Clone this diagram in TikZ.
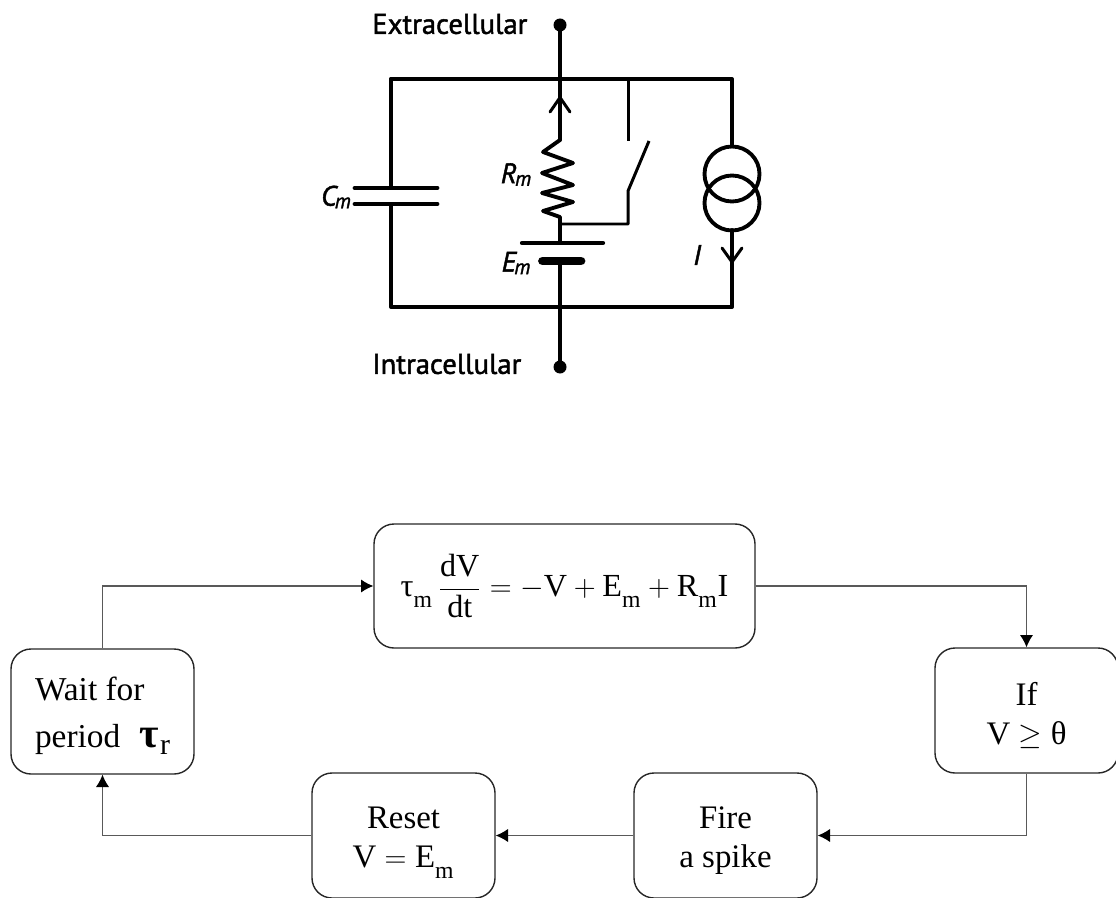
\documentclass[tikz,border=0pt]{standalone}
\usepackage{amssymb,amsmath}
\usepackage{fontspec}
\setmainfont{Liberation Serif}
\newfontfamily\labelfont[FakeBold=1.6]{PT Sans}
\usetikzlibrary{%
  arrows.meta,%
  calc%
}
\tikzset{>={Latex[length=7pt,width=7.5pt,black]}}
\tikzset{
  flowbox/.style={draw=black!85,line width=0.8pt,rounded corners=0.4cm,inner sep=0pt,
    minimum width=3.66cm,minimum height=2.5cm,align=center,font=\fontsize{18.7}{22}\selectfont},
  flowline/.style={draw=black!65,line width=0.6pt,->},
  wire/.style={line width=2.2pt,line join=round,line cap=round},
  thinwire/.style={line width=1.7pt,line join=round},
  circuitlabel/.style={inner sep=0pt,font=\labelfont\fontsize{16.3}{18}\selectfont},
  symlabel/.style={inner sep=0pt,font=\labelfont\itshape\fontsize{16}{18}\selectfont}
}
\newcommand{\cellsub}[2]{#1\kern-1pt{\fontsize{12}{12}\selectfont\raisebox{-1.5pt}{#2}}}
\newcommand{\flowsub}[1]{\text{\raisebox{-3.5pt}{\fontsize{13.5}{13.5}\selectfont #1}}}
\newcommand{\firstline}[1]{\rule{0pt}{#1pt}}

\begin{document}
\begin{tikzpicture}
    \useasboundingbox (0,0) rectangle (22.32,17.94);

    \coordinate (topdot) at (11.2,17.44);
    \coordinate (botdot) at (11.2,10.6);
    \coordinate (tl) at (7.82,16.36);
    \coordinate (tr) at (14.64,16.36);
    \coordinate (bl) at (7.82,11.8);
    \coordinate (br) at (14.64,11.8);

    \draw[wire] (topdot) -- (11.2,15.14);
    \draw[wire] (tl) -- (tr) -- (14.64,15.04);
    \draw[wire] (tl) -- (7.82,14.18);
    \draw[wire] (7.82,13.86) -- (bl) -- (br) -- (14.64,13.34);
    \draw[wire] (11.2,12.72) -- (botdot);
    \fill (topdot) circle (0.13cm);
    \fill (botdot) circle (0.13cm);

    \draw[line width=2.8pt,line cap=round] (7.1,14.18) -- (8.74,14.18);
    \draw[line width=2.8pt,line cap=round] (7.1,13.86) -- (8.74,13.86);

    \draw[thinwire,line cap=round] (11.0,15.7) -- (11.2,15.99) -- (11.4,15.7);
    \draw[wire] (11.2,15.14) -- (10.86,14.9) -- (11.46,14.68) -- (10.84,14.48)
    -- (11.46,14.24) -- (10.84,14.08) -- (11.46,13.9) -- (10.86,13.72)
    -- (11.2,13.6) -- (11.2,13.08);

    \draw[line width=2.4pt,line cap=round] (10.44,13.08) -- (12.06,13.08);
    \draw[line width=5pt,line cap=round] (10.85,12.72) -- (11.62,12.72);

    \draw[thinwire] (11.2,13.46) -- (12.56,13.46) -- (12.56,14.12) -- (12.98,15.12);
    \draw[thinwire] (12.56,16.36) -- (12.56,15.12);

    \draw[wire] (14.64,14.46) circle (0.55cm);
    \draw[wire] (14.64,13.88) circle (0.55cm);
    \draw[thinwire,line cap=round] (14.44,12.98) -- (14.64,12.7) -- (14.84,12.98);

    \node[circuitlabel,anchor=west] (extlabel) at (7.44,17.46) {Extracellular};
    \node[circuitlabel,anchor=west] (intlabel) at (7.44,10.66) {Intracellular};
    \node[symlabel] (cmlabel) at (6.72,14.0) {\cellsub{C}{m}};
    \node[symlabel] (rmlabel) at (10.32,14.45) {\cellsub{R}{m}};
    \node[symlabel] (emlabel) at (10.32,12.68) {\cellsub{E}{m}};
    \node[symlabel] (ilabel) at (13.94,12.84) {I};

    \node[flowbox,minimum width=7.62cm,minimum height=2.48cm,font=\fontsize{18.3}{22}\selectfont] (eqbox) at (11.29,6.22)
    {\raisebox{-1.2pt}{$\text{τ}_{\flowsub{m}}\,\dfrac{\text{dV}}{\text{dt}}=-\text{V}+\text{E}_{\flowsub{m}}+\text{R}_{\flowsub{m}}\text{I}$}};
    \node[flowbox,align=left,font=\fontsize{19}{26.5}\selectfont] (waitbox) at (2.05,3.71)
    {\firstline{18.5}Wait for\\period\kern11pt{\fontsize{24}{26.5}\selectfont\textbf{τ}}\kern0.5pt\raisebox{-4pt}{\fontsize{17}{17}\selectfont r}};
    \node[flowbox] (ifbox) at (20.53,3.73) {\firstline{18.5}If\\$\text{V}\geq\text{θ}$};
    \node[flowbox] (firebox) at (14.51,1.23) {\firstline{18.5}Fire\\a spike};
    \node[flowbox] (resetbox) at (8.07,1.23) {\firstline{20.5}Reset\\$\text{V}=\text{E}_{\flowsub{m}}$};

    \draw[flowline] (waitbox.north) |- (eqbox.west);
    \draw[flowline] (eqbox.east) -| (ifbox.north);
    \draw[flowline] (ifbox.south) |- (firebox.east);
    \draw[flowline] (firebox.west) -- (resetbox.east);
    \draw[flowline] (resetbox.west) -| (waitbox.south);
  \end{tikzpicture}
\end{document}
